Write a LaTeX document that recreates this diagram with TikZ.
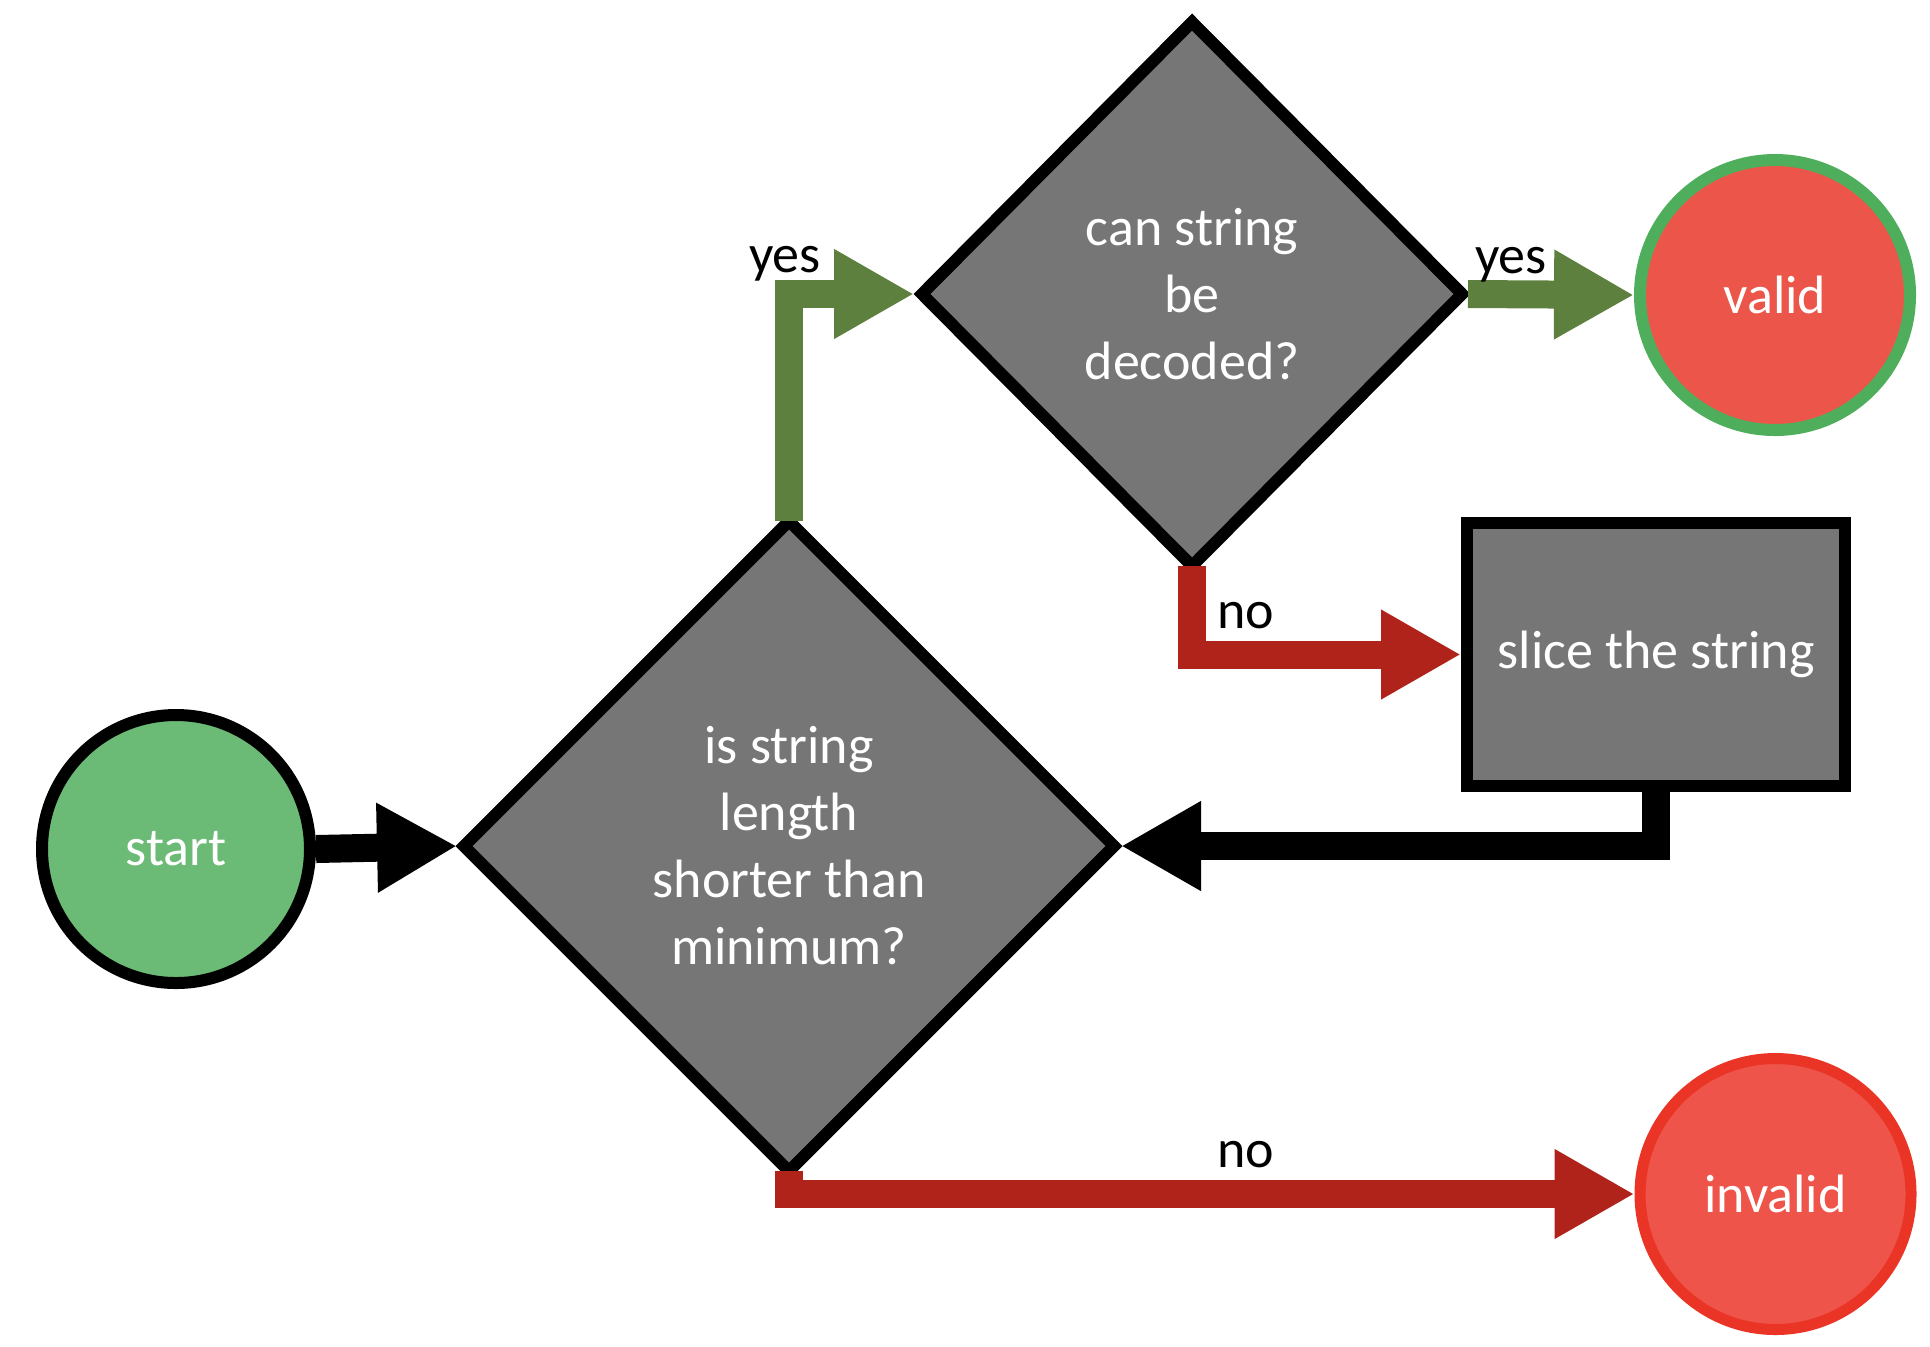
\documentclass[tikz,border=0pt]{standalone}
\usepackage{fontspec}
\setmainfont{Carlito}
\usetikzlibrary{shapes.geometric,arrows.meta}
\definecolor{startgreen}{HTML}{6BBB77}
\definecolor{boxgray}{HTML}{767676}
\definecolor{validfill}{HTML}{EC554A}
\definecolor{validline}{HTML}{4FAE5C}
\definecolor{invalidfill}{HTML}{EE5449}
\definecolor{invalidline}{HTML}{EA3425}
\definecolor{arrgreen}{HTML}{5E803E}
\definecolor{arrred}{HTML}{AF231B}
\begin{document}
\begin{tikzpicture}[x=0.5pt,y=-0.5pt,
  txt/.style={font=\fontsize{27}{33.5}\selectfont},
  term/.style={circle, txt, text=white, inner sep=0pt, line width=6pt},
  decision/.style={diamond, txt, text=white, draw=black, fill=boxgray, line width=6pt,
    inner sep=0pt, outer sep=0pt, aspect=1, align=center},
  process/.style={rectangle, txt, text=white, draw=black, fill=boxgray, line width=6pt,
    inner sep=0pt, align=center},
  conn/.style={line width=14pt, line join=miter, -{Triangle[length=40pt,width=42pt]}},
  lbl/.style={txt, text=black, anchor=base, inner sep=0pt}]
\useasboundingbox (0,0) rectangle (1930,1346);

\node[term, draw=black, fill=startgreen, minimum size=134pt] (start) at (176,849) {start};
\node[decision, minimum width=325pt, minimum height=325pt] (d1) at (789,846)
  {is string\\length\\shorter than\\minimum?};
\node[decision, minimum width=270pt, minimum height=272pt] (d2) at (1192,294)
  {can string\\be\\decoded?};
\node[process, minimum width=189pt, minimum height=131.5pt] (box) at (1656,654.5) {slice the string};
\node[term, draw=validline, fill=validfill, minimum size=135pt] (valid) at (1775,295) {valid};
\node[term, draw=invalidline, fill=invalidfill, line width=5.5pt, minimum size=135.5pt] (invalid) at (1775.5,1194) {invalid};

\draw[conn, black] (start.east) -- ([xshift=-3.5pt]d1.west);
\draw[conn, arrgreen] (d1.north) |- ([xshift=-4pt]d2.west);
\draw[conn, arrgreen] ([xshift=3pt]d2.east) -- (valid.west);
\draw[conn, arrred] (d2.south) |- (box.west);
\draw[conn, black] (box.south) |- ([xshift=3.5pt]d1.east);
\draw[conn, arrred] (d1.south) |- (invalid.west);

\node[lbl] (yes1) at (785,272) {yes};
\node[lbl] (yes2) at (1511,273) {yes};
\node[lbl] (no1) at (1246,628) {no};
\node[lbl] (no2) at (1246,1167) {no};
\end{tikzpicture}
\end{document}
